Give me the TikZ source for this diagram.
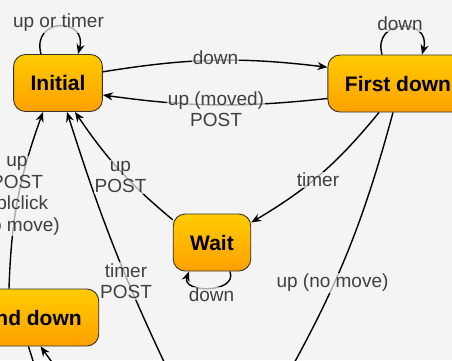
\documentclass[tikz,border=0pt]{standalone}
\usepackage{fontspec}
\setmainfont{Liberation Sans}
\usetikzlibrary{arrows.meta,calc,positioning}
\definecolor{bgc}{HTML}{F4F4F4}
\definecolor{nodetop}{HTML}{FFCC00}
\definecolor{nodebot}{HTML}{FFA000}
\definecolor{lblc}{HTML}{404040}
\newcommand\lblfont{\fontsize{19}{21.5}\selectfont}
\newcommand\stfont{\bfseries\fontsize{21}{24}\selectfont}

\begin{document}
\begin{tikzpicture}[x=1pt,y=-1pt,
  st/.style={draw=black!80,line width=0.9pt,rounded corners=12pt,top color=nodetop,bottom color=nodebot,minimum height=57pt,inner xsep=17pt,font=\stfont},
  tr/.style={line width=1.4pt,-{Stealth[length=10pt,width=8pt]}},
  lbl/.style={fill=bgc,fill opacity=0.7,text opacity=1,text=lblc,inner sep=1pt,align=center,font=\lblfont}]
\useasboundingbox (0,0) rectangle (452,360);
\fill[bgc] (0,0) rectangle (452,360);
\clip (0,0) rectangle (452,360);
% states
\node[st] (init) at (58,83) {Initial};
\node[st] (first) at (398,83.5) {First down};
\node[st] (wait) at (212,242.5) {Wait};
\node[st] (second) at (13.5,317.5) {Second down};
% states outside the frame
\coordinate (nomove) at (282,385);
\coordinate (tpsrc) at (175,385);
\coordinate (sdout) at (39,380);
\coordinate (sdin) at (65,380);
% transitions
\draw[tr] ([xshift=-17pt]init.north) .. controls +(-10,-37) and +(10,-37) .. ([xshift=20pt]init.north);
\draw[tr] ([xshift=-16pt]first.north) .. controls +(-10,-37) and +(10,-37) .. ([xshift=24pt]first.north);
\draw[tr] ([xshift=18pt]wait.south) .. controls +(8,22) and +(-8,22) .. ([xshift=-23pt]wait.south);
\draw[tr] (init.14) to[bend left=8] (first.167);
\draw[tr] (first.192) to[bend left=7] (init.-15);
\draw[tr] ([xshift=-19pt]first.south) to[bend left=10] (wait.27);
\draw[tr] ([xshift=-5pt]first.south) to[bend left=7] (nomove);
\draw[tr] (wait.150) to[bend left=8] ([xshift=17pt]init.south);
\draw[tr] (tpsrc) to[bend left=4] ([xshift=9pt]init.south);
\draw[tr] ([xshift=-4.5pt]second.north) to[bend left=9] ([xshift=-15pt]init.south);
\draw[tr] ([xshift=15pt]second.south) -- (sdout);
\draw[tr] (sdin) -- ([xshift=27pt]second.south);
% labels
\node[lbl] (l-init) at (58.5,23) {up or timer};
\node[lbl] (l-down) at (215.5,58) {down};
\node[lbl] (l-moved) at (216,109) {up (moved)\\POST};
\node[lbl] (l-first) at (400,24) {down};
\node[lbl] (l-timer) at (318,180) {timer};
\node[lbl] (l-nomove) at (332.5,283) {up (no move)};
\node[lbl] (l-wait) at (120.5,177) {up\\POST};
\node[lbl] (l-tpost) at (126,281) {timer\\POST};
\node[lbl] (l-second) at (17,196) {up\\POST\\dblclick\\(no move)};
\node[lbl] (l-wloop) at (211.5,295) {down};
\end{tikzpicture}
\end{document}
